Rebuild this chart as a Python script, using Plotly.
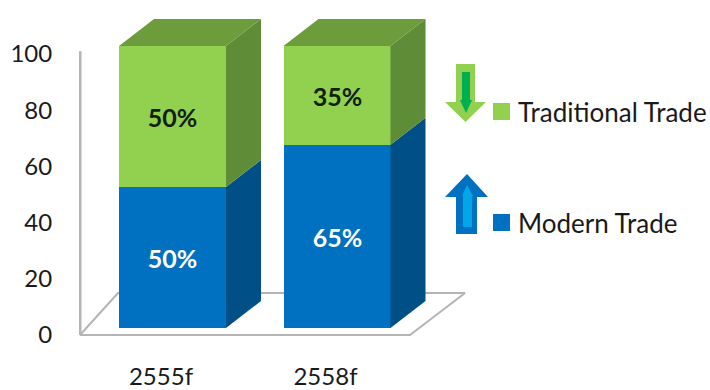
import plotly.graph_objects as go

# Chart data
categories = ["2555f", "2558f"]
modern_trade = [50, 65]
traditional_trade = [50, 35]
y_ticks = [0, 20, 40, 60, 80, 100]

# Colours per series: front, side and top faces of the blocks
MODERN = ("#0070C0", "#004F87", "#00568F")
TRADITIONAL = ("#92D050", "#5F8C36", "#6C9C3C")
FLOOR = "#B4B4B4"
FONT = "Lato, Carlito, Calibri, sans-serif"
TEXT = "#1A1A1A"

# Page and plot-area layout in pixels
W, H = 710, 390
L, R, T, B = 79, 470, 10, 340

# Horizontal scale: one category step, block width and extrusion depth
BAR_STEP_PX = 164.5
BAR_W = 107 / BAR_STEP_PX
DEPTH_X = 35 / BAR_STEP_PX
X_RANGE = [(L - 172.5) / BAR_STEP_PX, (R - 172.5) / BAR_STEP_PX]

# Category labels sit on the front edge of the floor, left of the blocks
TICK_SHIFT = 11.5 / BAR_STEP_PX

# The tick axis sits on the front edge of the floor, blocks stand further back
Y_RANGE = [(335 - B) / 2.81, (335 - T) / 2.81]
Y2_RANGE = [(328 - B) / 2.82, (328 - T) / 2.82]
DEPTH_Y = 27 / 2.82
FLOOR_BACK = 42 / 2.81

xs = list(range(len(categories)))


def px(x, y):
    """Convert page pixels to paper coordinates."""
    return (x - L) / (R - L), (B - y) / (B - T)


def polygon(points):
    parts = []
    for i, (x, y) in enumerate(points):
        u, v = px(x, y)
        parts.append(("M" if i == 0 else "L") + f"{u:.4f},{v:.4f}")
    return " ".join(parts) + " Z"


def face(xv, yv, color):
    return go.Scatter(
        x=xv, y=yv, yaxis="y2", mode="lines", fill="toself", fillcolor=color,
        line=dict(width=0, color=color), hoverinfo="skip", showlegend=False,
    )


fig = go.Figure()

# Floor and back-left wall edge
floor_x = [X_RANGE[0] + 1 / BAR_STEP_PX, 1 + (410 - 337) / BAR_STEP_PX,
           1 + (465 - 337) / BAR_STEP_PX, X_RANGE[0] + 39 / BAR_STEP_PX,
           X_RANGE[0] + 1 / BAR_STEP_PX]
floor_y = [0, 0, FLOOR_BACK, FLOOR_BACK, 0]
fig.add_trace(go.Scatter(x=floor_x, y=floor_y, mode="lines",
                         line=dict(color=FLOOR, width=2),
                         hoverinfo="skip", showlegend=False))
fig.add_trace(go.Scatter(x=[X_RANGE[0] + 1 / BAR_STEP_PX] * 2, y=[0, 101], mode="lines",
                         line=dict(color=FLOOR, width=3),
                         hoverinfo="skip", showlegend=False))

# Stacked front faces
fig.add_trace(go.Bar(
    x=xs, y=modern_trade, yaxis="y2", width=BAR_W, name="Modern Trade",
    marker=dict(color=MODERN[0], line=dict(width=0)),
    text=[f"{v}%" for v in modern_trade], textposition="inside", textangle=0,
    insidetextanchor="middle",
    textfont=dict(family=FONT, size=25, color="white", weight="bold"),
    showlegend=False,
))
fig.add_trace(go.Bar(
    x=xs, y=traditional_trade, yaxis="y2", width=BAR_W, name="Traditional Trade",
    marker=dict(color=TRADITIONAL[0], line=dict(width=0)),
    text=[f"{v}%" for v in traditional_trade], textposition="inside", textangle=0,
    insidetextanchor="middle",
    textfont=dict(family=FONT, size=25, color="#10200A", weight="bold"),
    showlegend=False,
))

# Extruded side and top faces derived from the same values
for x, low, high in zip(xs, modern_trade, traditional_trade):
    right = x + BAR_W / 2
    left = x - BAR_W / 2
    total = low + high
    fig.add_trace(face([right, right + DEPTH_X, right + DEPTH_X, right, right],
                       [0, DEPTH_Y, low + DEPTH_Y, low, 0], MODERN[1]))
    fig.add_trace(face([right, right + DEPTH_X, right + DEPTH_X, right, right],
                       [low, low + DEPTH_Y, total + DEPTH_Y, total, low], TRADITIONAL[1]))
    fig.add_trace(face([left, right, right + DEPTH_X, left + DEPTH_X, left],
                       [total, total, total + DEPTH_Y, total + DEPTH_Y, total], TRADITIONAL[2]))

# Trend arrows and legend keys, placed in page pixels
shapes = []
arrows = [
    ("#92D050", [(456, 64), (475, 64), (475, 102), (486, 102), (465.5, 122), (445, 102), (456, 102)]),
    ("#00B050", [(462, 72), (470, 72), (470, 100), (472, 100), (466, 113), (460, 100), (462, 100)]),
    ("#0070C0", [(467, 174), (488, 197), (477, 197), (477, 234), (456, 234), (456, 197), (445, 197)]),
    ("#00A6E8", [(467, 185), (473, 196), (472, 196), (472, 227), (463, 227), (463, 196), (462, 196)]),
]
for color, points in arrows:
    shapes.append(dict(type="path", xref="paper", yref="paper", path=polygon(points),
                       fillcolor=color, line=dict(width=0), layer="above"))

annotations = []
legend_rows = [("Traditional Trade", TRADITIONAL[0], 111.5), ("Modern Trade", MODERN[0], 222.5)]
for label, color, cy in legend_rows:
    x0, y0 = px(493, cy + 8.5)
    x1, y1 = px(510, cy - 8.5)
    shapes.append(dict(type="rect", xref="paper", yref="paper", x0=x0, x1=x1, y0=y0, y1=y1,
                       fillcolor=color, line=dict(width=0)))
    tx, ty = px(519, cy)
    annotations.append(dict(text=label, xref="paper", yref="paper", x=tx, y=ty,
                            xanchor="left", yanchor="middle", showarrow=False, xshift=-3,
                            font=dict(family=FONT, size=26, color=TEXT)))

fig.update_layout(
    width=W, height=H, margin=dict(l=L, r=W - R, t=T, b=H - B, pad=0),
    barmode="stack", bargap=0, paper_bgcolor="white", plot_bgcolor="white",
    showlegend=False, shapes=shapes, annotations=annotations,
    font=dict(family=FONT, color=TEXT),
    xaxis=dict(range=X_RANGE, tickmode="array", tickvals=[x - TICK_SHIFT for x in xs],
               ticktext=categories, automargin=False, showgrid=False, zeroline=False,
               showline=False, ticks="outside", ticklen=15, tickcolor="rgba(0,0,0,0)",
               tickfont=dict(family=FONT, size=24, color=TEXT)),
    yaxis=dict(range=Y_RANGE, tickmode="array", tickvals=y_ticks, automargin=False,
               showgrid=False, zeroline=False, showline=False,
               ticks="outside", ticklen=21, tickcolor="rgba(0,0,0,0)",
               tickfont=dict(family=FONT, size=24, color=TEXT)),
    yaxis2=dict(range=Y2_RANGE, overlaying="y", visible=False),
)

fig.write_html("out.html")
